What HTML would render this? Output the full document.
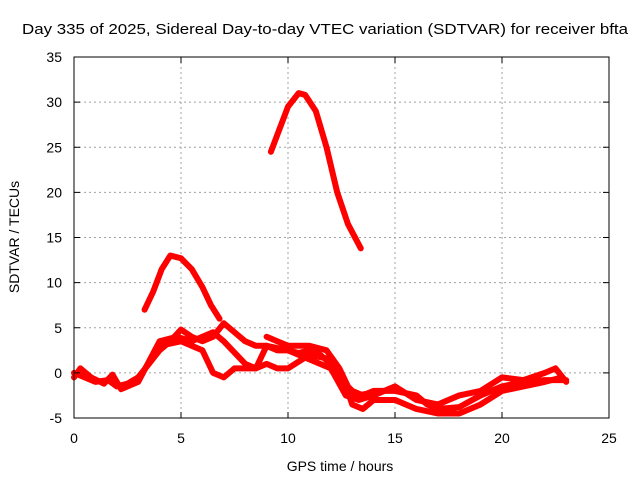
<!DOCTYPE html>
<html><head><meta charset="utf-8"><style>
body{margin:0;background:#fff}
svg{font-family:"Liberation Sans",sans-serif;font-size:14px}
</style></head><body>
<svg id="c" width="640" height="480">
<text x="22" y="34" textLength="606" lengthAdjust="spacingAndGlyphs" style="font-size:15px">Day 335 of 2025, Sidereal Day-to-day VTEC variation (SDTVAR) for receiver bfta</text>
<text x="340" y="471" text-anchor="middle">GPS time / hours</text>
<text transform="translate(19,237) rotate(-90)" text-anchor="middle">SDTVAR / TECUs</text>
<g id="grid"></g><g id="series"></g><g id="axes"></g>
</svg>
<script>
const xTicks=[0,5,10,15,20,25];
const yTicks=[-5,0,5,10,15,20,25,30,35];
const seriesA=[[9.2,24.5],[9.6,27],[10,29.5],[10.5,31],[10.8,30.8],[11.3,29],[11.8,25],[12.3,20],[12.8,16.5],[13.4,13.8]];
const seriesB=[[3.3,7],[3.7,9],[4.1,11.5],[4.5,13],[5,12.7],[5.5,11.5],[6,9.5],[6.4,7.5],[6.8,6]];
const seriesC=[[0,0],[0.5,-0.5],[1,-1],[1.6,-0.8],[2,-1.5],[2.5,-1.2],[3,-0.5],[3.5,1],[4,2.5],[4.5,3.5],[5,4.8],[5.5,4],[6,3.5],[6.5,4],[7,5.5],[7.5,4.5],[8,3.5],[8.5,3],[9,3],[9.5,2.5],[10,2.5],[10.5,2.2],[11,2.5],[11.5,2],[12,1],[12.5,-1],[13,-2],[13.5,-2.5],[14,-2],[15,-2],[16,-2.5],[16.5,-3.5],[17,-4],[18,-3.8],[19,-2.5],[20,-1.5],[21,-1],[22,-0.8],[23,-0.8]];
const seriesD=[[4,3],[5,3.5],[6,2.5],[6.5,0],[7,-0.5],[7.5,0.5],[8.5,0.5],[9,1],[9.5,0.5],[10,0.5],[11,2],[12,1.5],[12.5,0],[13,-3.5],[13.5,-4],[14,-3],[15,-3],[16,-4],[17,-4.5],[18,-4.5],[19,-3.5],[20,-2],[21,-1.5],[22,-1],[22.8,-0.5]];
const seriesE=[[0,-0.5],[0.3,0.5],[0.8,-0.5],[1.4,-1.2],[1.8,-0.2],[2.2,-1.8],[3,-1],[4,3.5],[4.8,4],[5.5,3.5],[6.5,4.5],[7,3.5],[8,1],[8.5,0.5],[9,3],[10,2.5],[11,1.5],[12,0.5],[12.7,-2.5],[13.3,-3],[14,-2.5],[15,-1.5],[16,-3],[17,-3.5],[18,-2.5],[19,-2],[20,-0.5],[21,-0.8],[22,0],[22.5,0.5],[23,-1]];
const seriesF=[[9,4],[10,3],[11,3],[11.8,2.5],[12.4,0.5],[12.8,-1.5],[13.2,-2.5],[14,-2.2]];
const allSeries=[seriesA,seriesB,seriesC,seriesD,seriesE,seriesF];
const X=v=>74+v*21.4, Y=v=>418-(v+5)*9.025;
const ns="http://www.w3.org/2000/svg";
function mk(t,a,p){const e=document.createElementNS(ns,t);for(const k in a)e.setAttribute(k,a[k]);p.appendChild(e);return e;}
const g=document.getElementById('grid'),ax=document.getElementById('axes'),s=document.getElementById('series');
xTicks.forEach(t=>{
 if(t>0&&t<25){const l=mk('line',{x1:X(t),x2:X(t),y1:57,y2:418,stroke:'#a0a0a0','stroke-dasharray':'2,3'},g);
 }
 const tx=mk('text',{x:X(t),y:443,'text-anchor':'middle'},ax);tx.textContent=t;
 
 mk('line',{x1:X(t),x2:X(t),y1:418,y2:412,stroke:'#000'},ax);mk('line',{x1:X(t),x2:X(t),y1:57,y2:63,stroke:'#000'},ax);
});
yTicks.forEach(t=>{
 if(t>-5&&t<35){const l=mk('line',{x1:74,x2:609,y1:Y(t),y2:Y(t),stroke:'#a0a0a0','stroke-dasharray':'2,3'},g);
 }
 const tx=mk('text',{x:62,y:Y(t)+5,'text-anchor':'end'},ax);tx.textContent=t;
 
 mk('line',{x1:74,x2:80,y1:Y(t),y2:Y(t),stroke:'#000'},ax);mk('line',{x1:609,x2:603,y1:Y(t),y2:Y(t),stroke:'#000'},ax);
});
const fr=mk('rect',{x:74,y:57,width:535,height:361,fill:'none',stroke:'#000'},ax);

allSeries.forEach((d,i)=>{
 const p=mk('polyline',{points:d.map(q=>X(q[0])+','+Y(q[1])).join(' '),fill:'none',stroke:'#ff0000','stroke-width':6,'stroke-linejoin':'round','stroke-linecap':'round'},s);
 
 
});
</script>
</body></html>
